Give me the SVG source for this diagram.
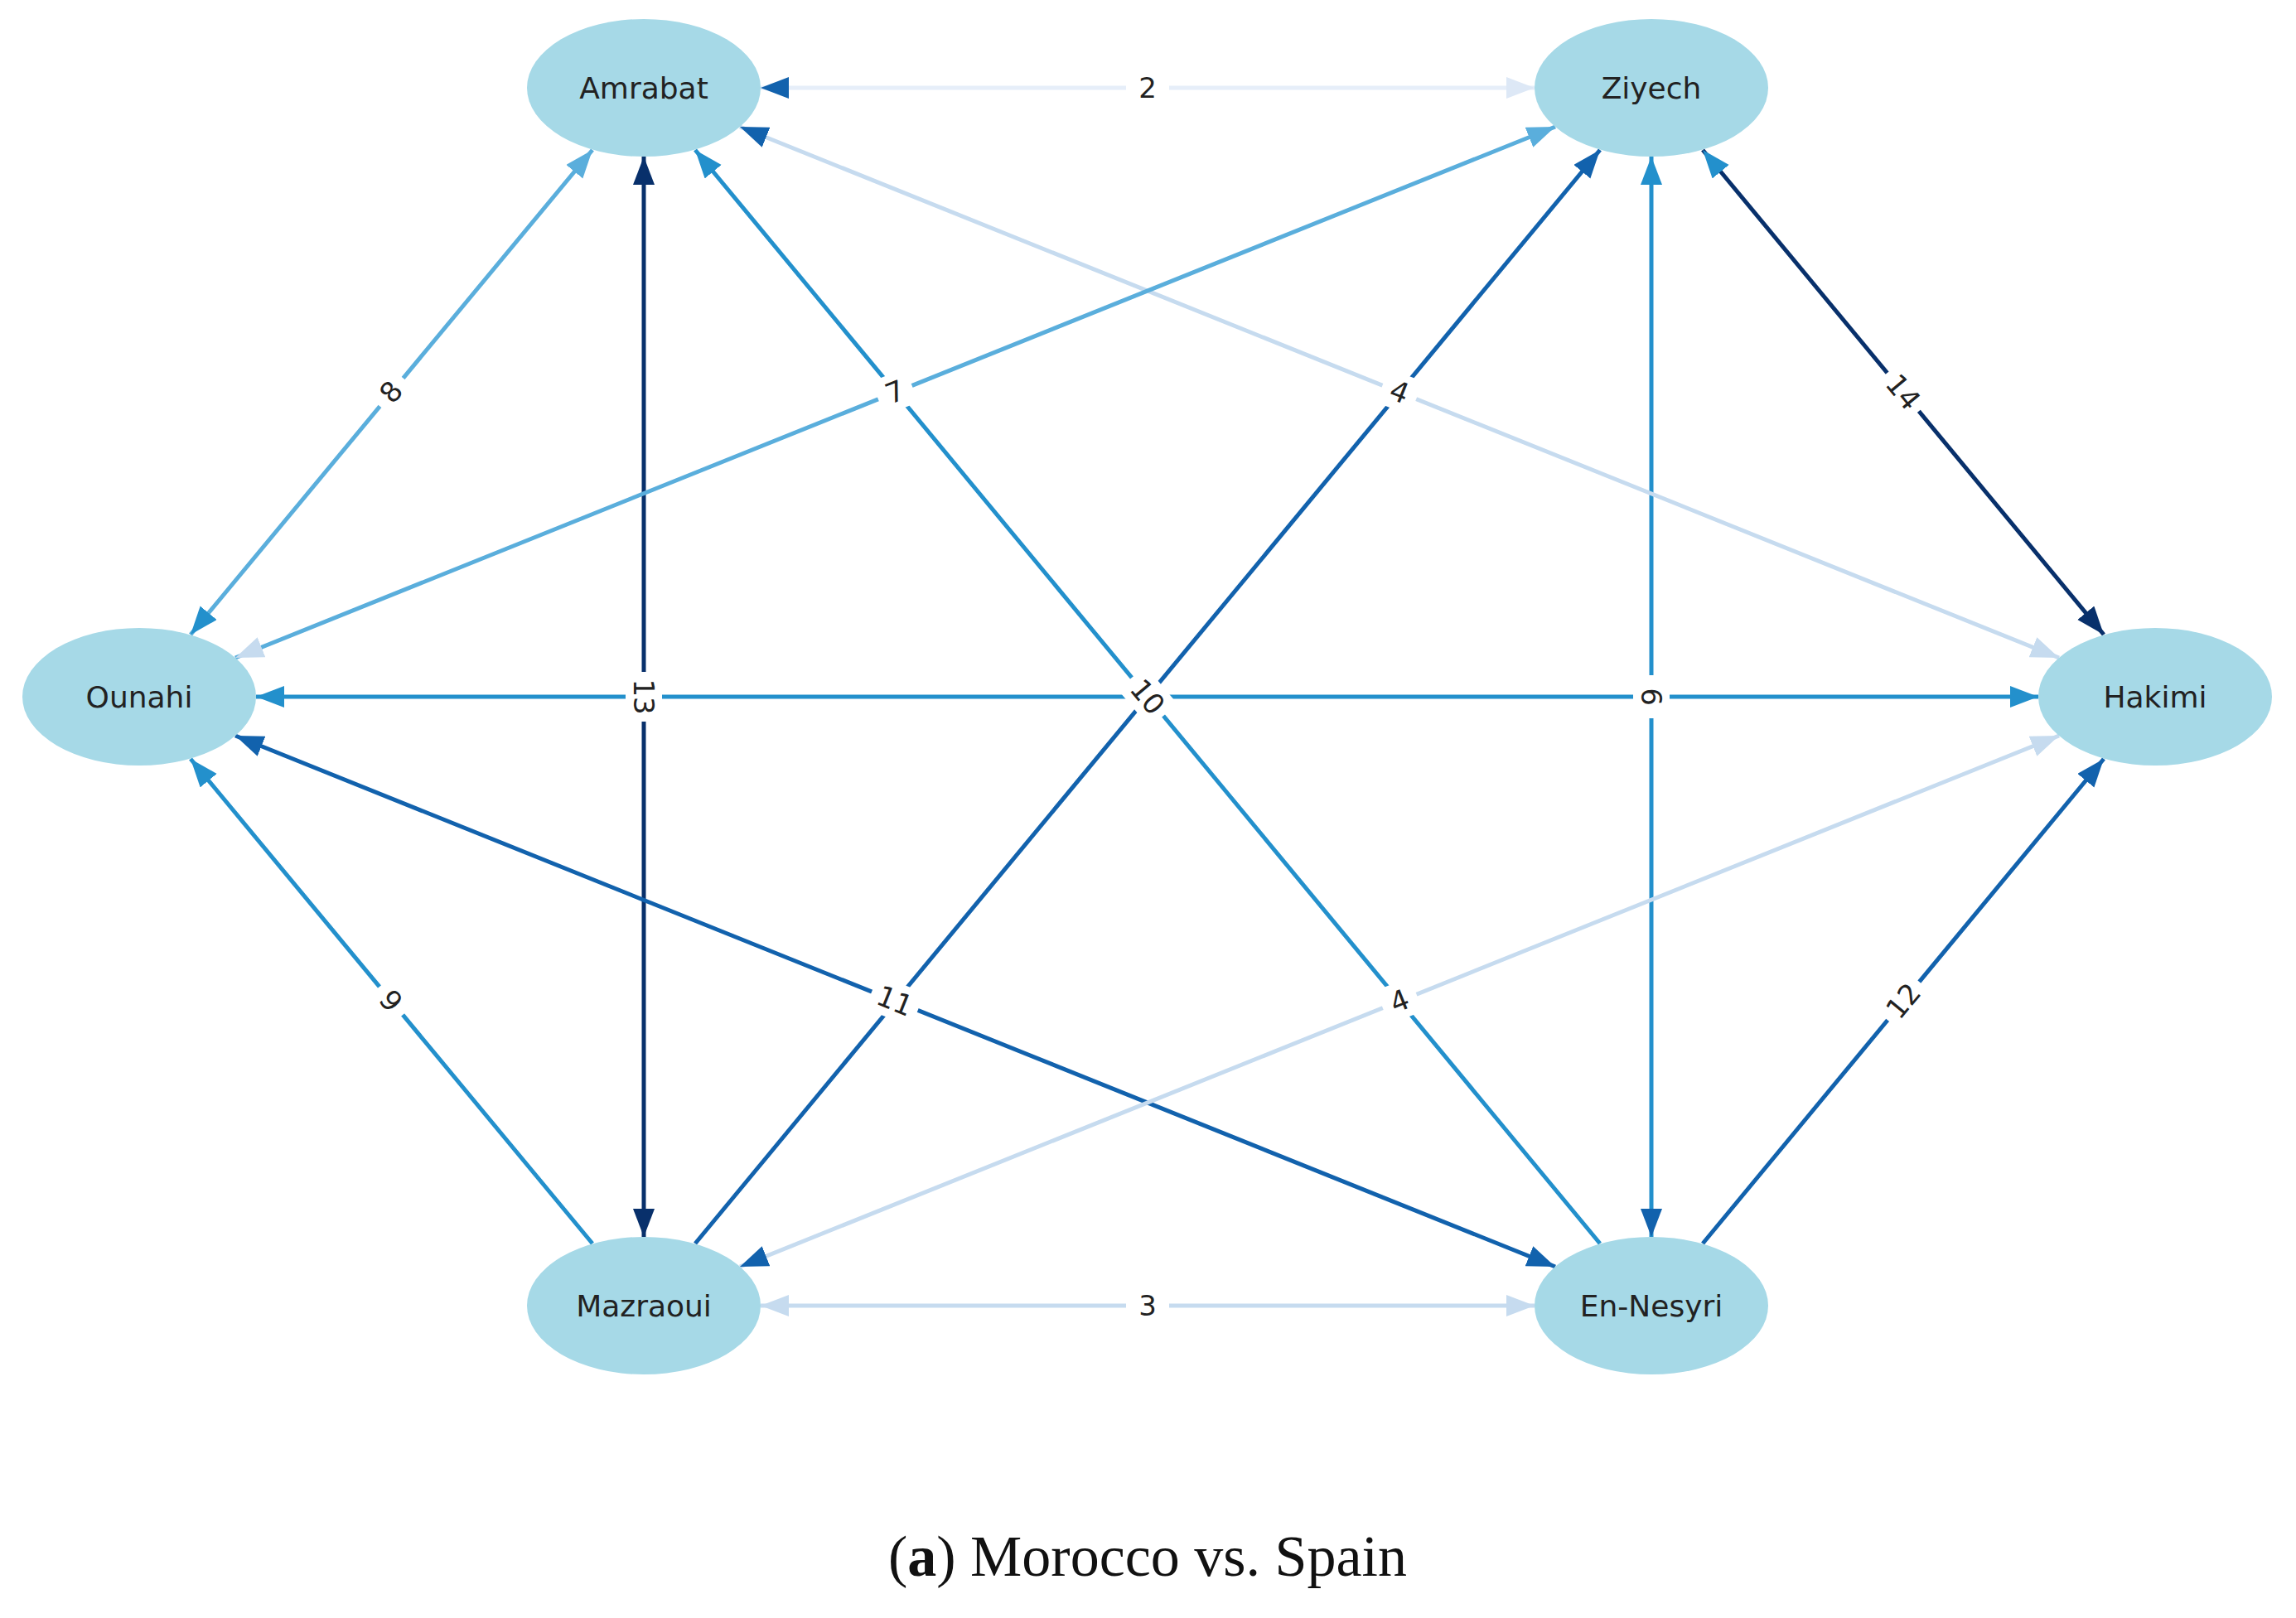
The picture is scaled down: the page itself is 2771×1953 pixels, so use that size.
<svg xmlns="http://www.w3.org/2000/svg" width="2771" height="1953" viewBox="0 0 2771 1953">
<style>
.e{fill:none;stroke-width:5}
.n{fill:#a6d9e7}
.nt{font-family:"DejaVu Sans",sans-serif;font-size:36px;fill:#222;text-anchor:middle;dominant-baseline:central}
.lt{font-family:"DejaVu Sans",sans-serif;font-size:34px;fill:#222;text-anchor:middle;dominant-baseline:central}
.lb{fill:#fff}
.c1{stroke:#e6eef9}.c2{stroke:#c6dbef}.c3{stroke:#5aaedc}.c4{stroke:#2390cc}.c5{stroke:#1262ad}.c6{stroke:#08306b}
</style>
<defs>
<marker id="m1" markerUnits="userSpaceOnUse" markerWidth="40" markerHeight="30" refX="34" refY="13" orient="auto-start-reverse"><path d="M0,0 L34,13 L0,26 Z" fill="#dde8f6"/></marker>
<marker id="m2" markerUnits="userSpaceOnUse" markerWidth="40" markerHeight="30" refX="34" refY="13" orient="auto-start-reverse"><path d="M0,0 L34,13 L0,26 Z" fill="#c6dbef"/></marker>
<marker id="m3" markerUnits="userSpaceOnUse" markerWidth="40" markerHeight="30" refX="34" refY="13" orient="auto-start-reverse"><path d="M0,0 L34,13 L0,26 Z" fill="#5aaedc"/></marker>
<marker id="m4" markerUnits="userSpaceOnUse" markerWidth="40" markerHeight="30" refX="34" refY="13" orient="auto-start-reverse"><path d="M0,0 L34,13 L0,26 Z" fill="#2390cc"/></marker>
<marker id="m5" markerUnits="userSpaceOnUse" markerWidth="40" markerHeight="30" refX="34" refY="13" orient="auto-start-reverse"><path d="M0,0 L34,13 L0,26 Z" fill="#1262ad"/></marker>
<marker id="m6" markerUnits="userSpaceOnUse" markerWidth="40" markerHeight="30" refX="34" refY="13" orient="auto-start-reverse"><path d="M0,0 L34,13 L0,26 Z" fill="#08306b"/></marker>
</defs>
<rect width="2771" height="1953" fill="#fff"/>
<g id="connectors">
<line class="e c1" x1="918" y1="106" x2="1852" y2="106" marker-start="url(#m5)" marker-end="url(#m1)"/>
<line class="e c6" x1="777" y1="189" x2="777" y2="1493" marker-start="url(#m6)" marker-end="url(#m6)"/>
<line class="e c4" x1="1993" y1="189" x2="1993" y2="1493" marker-start="url(#m4)" marker-end="url(#m5)"/>
<line class="e c4" x1="309" y1="841" x2="2460" y2="841" marker-start="url(#m4)" marker-end="url(#m4)"/>
<line class="e c2" x1="918" y1="1576" x2="1852" y2="1576" marker-start="url(#m2)" marker-end="url(#m2)"/>
<line class="e c3" x1="715" y1="181" x2="230" y2="766" marker-start="url(#m3)" marker-end="url(#m4)"/>
<line class="e c6" x1="2055" y1="181" x2="2539" y2="766" marker-start="url(#m4)" marker-end="url(#m6)"/>
<line class="e c4" x1="715" y1="1501" x2="230" y2="916" marker-end="url(#m4)"/>
<line class="e c5" x1="2055" y1="1501" x2="2539" y2="916" marker-end="url(#m5)"/>
<line class="e c2" x1="893" y1="153" x2="2485" y2="794" marker-start="url(#m5)" marker-end="url(#m2)"/>
<line class="e c3" x1="284" y1="794" x2="1877" y2="153" marker-start="url(#m2)" marker-end="url(#m3)"/>
<line class="e c5" x1="284" y1="888" x2="1877" y2="1529" marker-start="url(#m5)" marker-end="url(#m5)"/>
<line class="e c2" x1="893" y1="1529" x2="2485" y2="888" marker-start="url(#m5)" marker-end="url(#m2)"/>
<line class="e c4" x1="1931" y1="1501" x2="839" y2="181" marker-end="url(#m4)"/>
<line class="e c5" x1="839" y1="1501" x2="1931" y2="181" marker-end="url(#m5)"/>
</g>
<g id="edge-labels">
<g transform="translate(1385,106)"><rect class="lb" x="-26" y="-22" width="52" height="44"/><text class="lt">2</text></g>
<g transform="translate(777,841) rotate(90)"><rect class="lb" x="-30" y="-22" width="60" height="44"/><text class="lt">13</text></g>
<g transform="translate(1993,841) rotate(90)"><rect class="lb" x="-26" y="-22" width="52" height="44"/><text class="lt">6</text></g>
<g transform="translate(1385,841) rotate(50)"><rect class="lb" x="-30" y="-22" width="60" height="44"/><text class="lt">10</text></g>
<g transform="translate(1385,1576)"><rect class="lb" x="-26" y="-22" width="52" height="44"/><text class="lt">3</text></g>
<g transform="translate(472,473) rotate(-50.4)"><rect class="lb" x="-22" y="-22" width="44" height="44"/><text class="lt">8</text></g>
<g transform="translate(2297,473) rotate(50.4)"><rect class="lb" x="-30" y="-22" width="60" height="44"/><text class="lt">14</text></g>
<g transform="translate(472,1208) rotate(50.4)"><rect class="lb" x="-22" y="-22" width="44" height="44"/><text class="lt">9</text></g>
<g transform="translate(2297,1208) rotate(-50.4)"><rect class="lb" x="-30" y="-22" width="60" height="44"/><text class="lt">12</text></g>
<g transform="translate(1080,473) rotate(-21.9)"><rect class="lb" x="-22" y="-22" width="44" height="44"/><text class="lt">7</text></g>
<g transform="translate(1689,473) rotate(21.9)"><rect class="lb" x="-22" y="-22" width="44" height="44"/><text class="lt">4</text></g>
<g transform="translate(1080,1208) rotate(21.9)"><rect class="lb" x="-30" y="-22" width="60" height="44"/><text class="lt">11</text></g>
<g transform="translate(1689,1208) rotate(-21.9)"><rect class="lb" x="-22" y="-22" width="44" height="44"/><text class="lt">4</text></g>
</g>
<g id="Amrabat"><ellipse class="n" cx="777" cy="106" rx="141" ry="83"/><text class="nt" x="777" y="106">Amrabat</text></g>
<g id="Ziyech"><ellipse class="n" cx="1993" cy="106" rx="141" ry="83"/><text class="nt" x="1993" y="106">Ziyech</text></g>
<g id="Ounahi"><ellipse class="n" cx="168" cy="841" rx="141" ry="83"/><text class="nt" x="168" y="841">Ounahi</text></g>
<g id="Hakimi"><ellipse class="n" cx="2601" cy="841" rx="141" ry="83"/><text class="nt" x="2601" y="841">Hakimi</text></g>
<g id="Mazraoui"><ellipse class="n" cx="777" cy="1576" rx="141" ry="83"/><text class="nt" x="777" y="1576">Mazraoui</text></g>
<g id="En-Nesyri"><ellipse class="n" cx="1993" cy="1576" rx="141" ry="83"/><text class="nt" x="1993" y="1576">En-Nesyri</text></g>
<text x="1385" y="1902" font-family="Liberation Serif,serif" font-size="70" text-anchor="middle" fill="#111">(<tspan font-weight="bold">a</tspan>) Morocco vs. Spain</text>
</svg>
